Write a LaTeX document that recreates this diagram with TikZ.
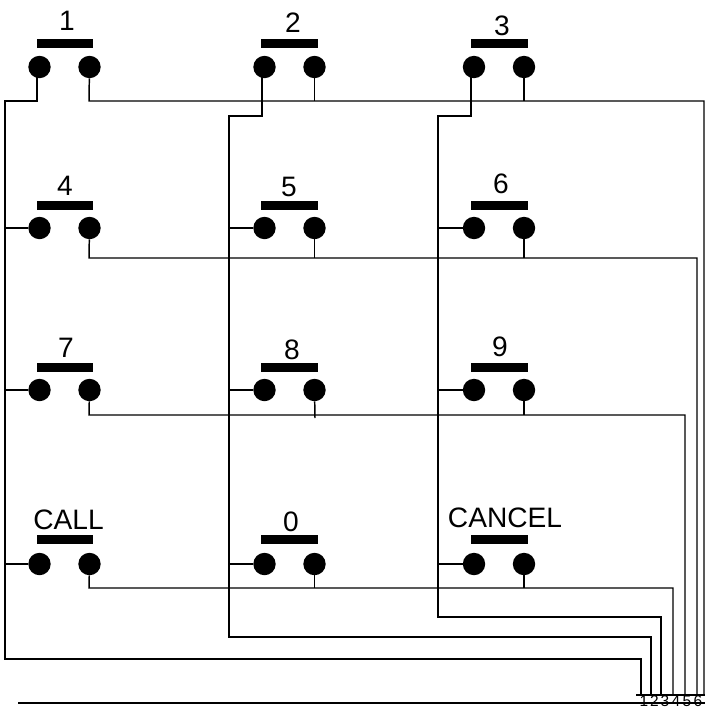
\documentclass[tikz,border=0pt]{standalone}
\usepackage{fontspec}
\setmainfont{Liberation Sans}
\tikzset{
    wire/.style={line width=2.1pt, black},
    contact/.style={circle, fill=black, inner sep=0pt, minimum size=1.12cm},
    keybar/.style={rectangle, fill=black, inner sep=0pt, minimum width=2.85cm, minimum height=0.45cm},
    keylabel/.style={inner sep=0pt, anchor=base, font=\fontsize{40}{48}\selectfont},
    pinlabel/.style={inner sep=0pt, anchor=north, font=\fontsize{22}{26}\selectfont}
}

\begin{document}
\begin{tikzpicture}[x=0.05cm, y=-0.05cm]
    \useasboundingbox (0,0) rectangle (705,709);

    % Bars
    \node[keybar] (b1) at (65,43.5) {};
    \node[keybar] (b2) at (289,43.5) {};
    \node[keybar] (b3) at (499,43.5) {};
    \node[keybar] (b4) at (65,205.5) {};
    \node[keybar] (b5) at (289,205.5) {};
    \node[keybar] (b6) at (499,205.5) {};
    \node[keybar] (b7) at (65,367.5) {};
    \node[keybar] (b8) at (289,367.5) {};
    \node[keybar] (b9) at (499,367.5) {};
    \node[keybar] (bcall) at (65,539.5) {};
    \node[keybar] (b0) at (289,539.5) {};
    \node[keybar] (bcancel) at (499,539.5) {};

    % Key names
    \node[keylabel] (l1) at (67,30) {1};
    \node[keylabel] (l2) at (293,32) {2};
    \node[keylabel] (l3) at (502,35) {3};
    \node[keylabel] (l4) at (65,195) {4};
    \node[keylabel] (l5) at (289,196) {5};
    \node[keylabel] (l6) at (501,193) {6};
    \node[keylabel] (l7) at (66,357) {7};
    \node[keylabel] (l8) at (292,359) {8};
    \node[keylabel] (l9) at (500,356) {9};
    \node[keylabel] (lcall) at (68.5,529) {CALL};
    \node[keylabel] (l0) at (291,531) {0};
    \node[keylabel] (lcancel) at (505,527) {CANCEL};

    % Contacts
    \node[contact] (k1l) at (39.5,67) {};
    \node[contact] (k1r) at (89.5,67) {};
    \node[contact] (k2l) at (264.5,67) {};
    \node[contact] (k2r) at (314.5,67) {};
    \node[contact] (k3l) at (474,67) {};
    \node[contact] (k3r) at (524,67) {};
    \node[contact] (k4l) at (39.5,228) {};
    \node[contact] (k4r) at (89.5,228) {};
    \node[contact] (k5l) at (264.5,228) {};
    \node[contact] (k5r) at (314.5,228) {};
    \node[contact] (k6l) at (474,228) {};
    \node[contact] (k6r) at (524,228) {};
    \node[contact] (k7l) at (39.5,390) {};
    \node[contact] (k7r) at (89.5,390) {};
    \node[contact] (k8l) at (264.5,390) {};
    \node[contact] (k8r) at (314.5,390) {};
    \node[contact] (k9l) at (474,390) {};
    \node[contact] (k9r) at (524,390) {};
    \node[contact] (kcalll) at (39.5,564) {};
    \node[contact] (kcallr) at (89.5,564) {};
    \node[contact] (k0l) at (264.5,564) {};
    \node[contact] (k0r) at (314.5,564) {};
    \node[contact] (kcancell) at (474,564) {};
    \node[contact] (kcancelr) at (524,564) {};

    % Connector pins
    \coordinate (p1) at (641,695);
    \coordinate (p2) at (651,695);
    \coordinate (p3) at (661,695);
    \coordinate (p4) at (673,695);
    \coordinate (p5) at (685,695);
    \coordinate (p6) at (697,695);
    \coordinate (p7) at (704,695);

    % Column wires
    \coordinate (t1) at (37,70);
    \coordinate (t2) at (262,70);
    \coordinate (t3) at (471,70);
    \coordinate (c1) at (5,101);
    \coordinate (c2) at (229,116);
    \coordinate (c3) at (438,116);
    \coordinate (d1) at (5,659);
    \coordinate (d2) at (229,637);
    \coordinate (d3) at (438,617);
    \draw[wire] (t1) |- (c1) -- (d1) -| (p1);
    \draw[wire] (t2) |- (c2) -- (d2) -| (p2);
    \draw[wire] (t3) |- (c3) -- (d3) -| (p3);
    \draw[wire] (k4l) -- (k4l -| c1);
    \draw[wire] (k7l) -- (k7l -| c1);
    \draw[wire] (kcalll) -- (kcalll -| c1);
    \draw[wire] (k5l) -- (k5l -| c2);
    \draw[wire] (k8l) -- (k8l -| c2);
    \draw[wire] (k0l) -- (k0l -| c2);
    \draw[wire] (k6l) -- (k6l -| c3);
    \draw[wire] (k9l) -- (k9l -| c3);
    \draw[wire] (kcancell) -- (kcancell -| c3);

    % Row wires
    \coordinate (r1) at (89,101);
    \coordinate (r2) at (89,258);
    \coordinate (r3) at (89,415);
    \coordinate (r4) at (89,588);
    \coordinate (t8) at (315,418);
    \draw[wire] (k1r) -- (r1) -| (p7);
    \draw[wire] (k4r) -- (r2) -| (p6);
    \draw[wire] (k7r) -- (r3) -| (p5);
    \draw[wire] (kcallr) -- (r4) -| (p4);
    \draw[wire] (k2r) -- (k2r |- r1);
    \draw[wire] (k3r) -- (k3r |- r1);
    \draw[wire] (k5r) -- (k5r |- r2);
    \draw[wire] (k6r) -- (k6r |- r2);
    \draw[wire] (k8r) -- (t8);
    \draw[wire] (k9r) -- (k9r |- r3);
    \draw[wire] (k0r) -- (k0r |- r4);
    \draw[wire] (kcancelr) -- (kcancelr |- r4);

    % Connector
    \node[pinlabel] (n1) at (644,696) {1};
    \node[pinlabel] (n2) at (654.5,696) {2};
    \node[pinlabel] (n3) at (665,696) {3};
    \node[pinlabel] (n4) at (676,696) {4};
    \node[pinlabel] (n5) at (687,696) {5};
    \node[pinlabel] (n6) at (698,696) {6};
    \coordinate (h1) at (636,695);
    \coordinate (h2) at (705,695);
    \coordinate (h3) at (18,703);
    \coordinate (h4) at (705,703);
    \draw[wire] (h1) -- (h2);
    \draw[wire] (h3) -- (h4);
\end{tikzpicture}
\end{document}
